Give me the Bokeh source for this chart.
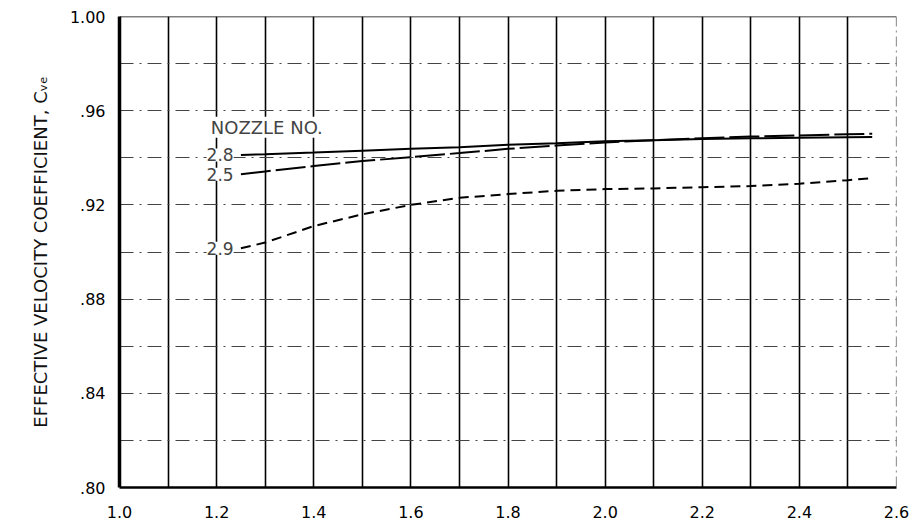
from bokeh.plotting import figure
from bokeh.models import FixedTicker, Span, Label, Range1d
from bokeh.embed import file_html
from bokeh.resources import INLINE

# ---- data ----
x_vals = [1.25, 1.3, 1.4, 1.5, 1.6, 1.7, 1.8, 1.9, 2.0, 2.1, 2.2, 2.3, 2.4, 2.5, 2.55]
nozzle_28 = [0.9412, 0.9415, 0.9422, 0.9430, 0.9438, 0.9445, 0.9455, 0.9462, 0.9470,
             0.9475, 0.9480, 0.9483, 0.9485, 0.9487, 0.9488]
nozzle_25 = [0.9330, 0.9342, 0.9365, 0.9386, 0.9403, 0.9420, 0.9438, 0.9452, 0.9465,
             0.9475, 0.9483, 0.9490, 0.9495, 0.9500, 0.9502]
nozzle_29 = [0.9016, 0.9040, 0.9110, 0.9160, 0.9200, 0.9230, 0.9246, 0.9260, 0.9267,
             0.9270, 0.9275, 0.9280, 0.9290, 0.9305, 0.9314]

x_range = [1.0, 2.6]
y_range = [0.80, 1.00]
x_ticks = [1.0, 1.2, 1.4, 1.6, 1.8, 2.0, 2.2, 2.4, 2.6]
x_tick_labels = ["1.0", "1.2", "1.4", "1.6", "1.8", "2.0", "2.2", "2.4", "2.6"]
x_grid = [1.1, 1.2, 1.3, 1.4, 1.5, 1.6, 1.7, 1.8, 1.9, 2.0, 2.1, 2.2, 2.3, 2.4, 2.5]
y_ticks = [0.80, 0.84, 0.88, 0.92, 0.96, 1.00]
y_tick_labels = [".80", ".84", ".88", ".92", ".96", "1.00"]
y_grid = [0.82, 0.84, 0.86, 0.88, 0.90, 0.92, 0.94, 0.96, 0.98]

series_names = ["2.8", "2.5", "2.9"]
label_x = 1.235
legend_title = "NOZZLE NO."
y_title = "EFFECTIVE VELOCITY COEFFICIENT, C\u1d65\u2091"

FONT = "DejaVu Sans"

p = figure(width=914, height=528, output_backend="svg", toolbar_location=None,
           x_range=Range1d(*x_range), y_range=Range1d(*y_range))
p.min_border_left = 119
p.min_border_right = 18
p.min_border_top = 16
p.min_border_bottom = 41
p.outline_line_color = None
p.background_fill_color = "white"

# axes
p.xaxis.ticker = FixedTicker(ticks=x_ticks)
p.xaxis.major_label_overrides = {t: l for t, l in zip(x_ticks, x_tick_labels)}
p.yaxis.ticker = FixedTicker(ticks=y_ticks)
p.yaxis.major_label_overrides = {t: l for t, l in zip(y_ticks, y_tick_labels)}
for ax in (p.xaxis, p.yaxis):
    ax.major_tick_line_color = None
    ax.minor_tick_line_color = None
    ax.axis_line_color = "black"
    ax.major_label_text_font = FONT
    ax.major_label_text_font_size = "16px"
    ax.major_label_text_color = "black"
p.yaxis.axis_line_width = 3.5
p.xaxis.axis_line_width = 2.5
p.yaxis.major_label_standoff = 8
p.xaxis.major_label_standoff = 12
p.yaxis.axis_label = y_title
p.yaxis.axis_label_text_font = FONT
p.yaxis.axis_label_text_font_size = "18px"
p.yaxis.axis_label_text_font_style = "normal"
p.yaxis.axis_label_text_color = "#111111"
p.yaxis.axis_label_standoff = 16

# grids
p.xgrid.ticker = FixedTicker(ticks=x_grid)
p.xgrid.grid_line_color = "black"
p.xgrid.grid_line_width = 1.6
p.ygrid.ticker = FixedTicker(ticks=y_grid)
p.ygrid.grid_line_color = "#444444"
p.ygrid.grid_line_width = 1.1
p.ygrid.grid_line_dash = "14 6 2 6"

# borders (top solid, right dashed)
p.add_layout(Span(location=y_range[1], dimension="width", line_color="black", line_width=1.5))
p.add_layout(Span(location=x_range[1], dimension="height", line_color="#333333",
                  line_width=1.2, line_dash="10 4 2 4"))

# curves
p.line(x_vals, nozzle_28, line_color="black", line_width=2)
p.line(x_vals, nozzle_25, line_color="black", line_width=2, line_dash="30 5")
p.line(x_vals, nozzle_29, line_color="black", line_width=2, line_dash="10 6")

# labels
for name, ys in zip(series_names, [nozzle_28, nozzle_25, nozzle_29]):
    p.add_layout(Label(x=label_x, y=ys[0], text=name, text_align="right",
                       text_baseline="middle", text_font=FONT, text_font_size="17px",
                       background_fill_color="white", background_fill_alpha=1.0))
p.add_layout(Label(x=1.188, y=0.953, text=legend_title, text_align="left",
                   text_baseline="middle", text_font=FONT, text_font_size="18px",
                   background_fill_color="white", background_fill_alpha=1.0))

open("out.html", "w").write(file_html(p, INLINE))
